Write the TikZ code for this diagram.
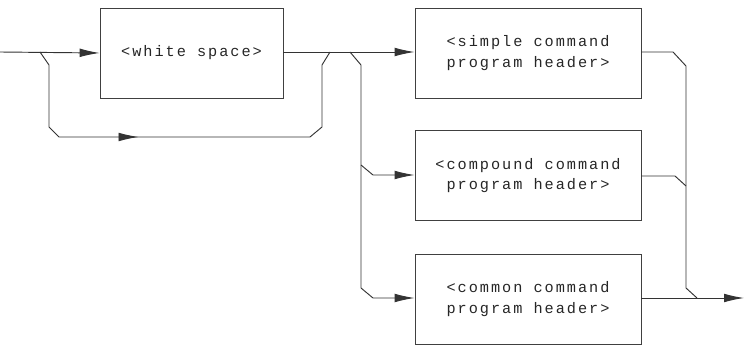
\documentclass[tikz,border=0pt]{standalone}
\usepackage{fontspec}
\usetikzlibrary{arrows.meta}
\usetikzlibrary{decorations.markings,arrows}
\newfontfamily\plotfont{Liberation Mono}[LetterSpace=13]

\begin{document}
\begin{tikzpicture}[
    box/.style = {draw=black!75, line width=0.7pt, minimum height=2.7cm,
                  align=center, font=\plotfont\fontsize{13}{17.5}\selectfont,
                  text=black!85, inner sep=0pt},
    line/.style = {draw=black!80, line width=0.8pt},
    arr/.style = {line, -{Latex[length=6mm,width=2.6mm]}},
    midarr/.style = {line, decoration={markings,
        mark=at position 0.5 with {\arrow{Latex[length=6mm,width=2.6mm]}}},
        postaction={decorate}}]
    \pgfmathsetmacro{\u}{0.03}  % one pixel in cm
    \useasboundingbox (0,0) rectangle (744*\u,-345*\u);
    % boxes
    \node[box, minimum width=183*\u cm] (ws) at (191.5*\u,-53*\u) {<white space>};
    \node[box, minimum width=226*\u cm] (simple) at (528*\u,-53*\u)
        {<simple command\\program header>};
    \node[box, minimum width=226*\u cm] (compound) at (528*\u,-175.5*\u)
        {<compound command\\program header>};
    \node[box, minimum width=226*\u cm] (common) at (528*\u,-299*\u)
        {<common command\\program header>};
    % points on the lines
    \coordinate (in) at (0,-52*\u);
    \coordinate (out) at (744*\u,-298*\u);
    \coordinate (skipA) at (40*\u,-52*\u);
    \coordinate (skipB) at (330*\u,-52*\u);
    \coordinate (fork) at (350*\u,-52*\u);
    \coordinate (join) at (697*\u,-298*\u);
    % main line
    \draw[arr] (in) -- (ws.west);
    \draw[arr] (ws.east |- in) -- (simple.west |- in);
    \draw[arr] (common.east |- out) -- (out);
    % bypass round <white space>
    \draw[midarr] (skipA) -- ++(9*\u,-13*\u) -- (49*\u,-127*\u) -- (59*\u,-137*\u)
        -- (310*\u,-137*\u);
    \draw[line] (310*\u,-137*\u) -- (322*\u,-127*\u) -- (322*\u,-65*\u) -- (skipB);
    % fork to the lower headers
    \draw[line] (fork) -- (361*\u,-65*\u) -- (361*\u,-288*\u);
    \draw[arr] (361*\u,-165*\u) -- (373*\u,-175*\u) -- (compound.west |- 0,-175*\u);
    \draw[arr] (361*\u,-288*\u) -- (373*\u,-298*\u) -- (common.west |- out);
    % join on the right
    \draw[line] (simple.east |- in) -- (673*\u,-52*\u) -- (686*\u,-66*\u)
        -- (686*\u,-288*\u) -- (join);
    \draw[line] (compound.east |- 0,-176*\u) -- (675*\u,-176*\u) -- (686*\u,-186*\u);
\end{tikzpicture}
\end{document}
